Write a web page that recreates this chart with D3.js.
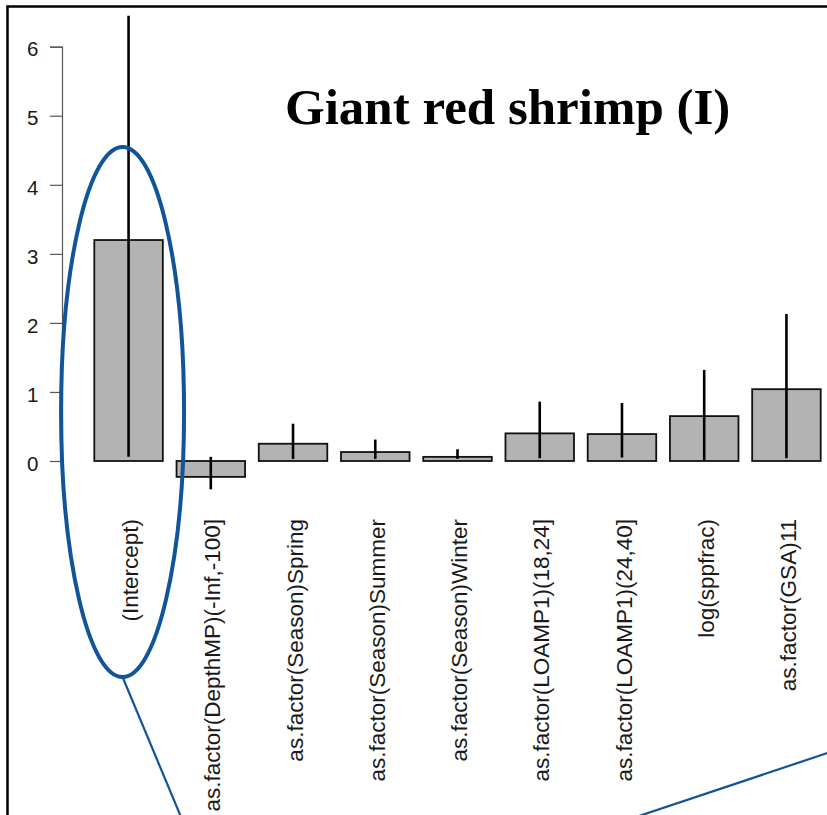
<!DOCTYPE html>
<html>
<head>
<meta charset="utf-8">
<script src="https://cdn.jsdelivr.net/npm/d3@7"></script>
<style>
  html, body { margin: 0; padding: 0; background: #ffffff; }
  svg { display: block; }
</style>
</head>
<body>
<svg id="chart" width="827" height="815"></svg>
<script>
// Model coefficients with their confidence limits
const categories = [
  "(Intercept)",
  "as.factor(DepthMP)(-Inf,-100]",
  "as.factor(Season)Spring",
  "as.factor(Season)Summer",
  "as.factor(Season)Winter",
  "as.factor(LOAMP1)(18,24]",
  "as.factor(LOAMP1)(24,40]",
  "log(sppfrac)",
  "as.factor(GSA)11"
];
const estimates = [3.20, -0.23, 0.25, 0.13, 0.06, 0.40, 0.39, 0.65, 1.04];
const lowerCI   = [0.06, -0.41, 0.03, 0.03, 0.03, 0.04, 0.05, 0.01, 0.04];
const upperCI   = [6.45,  0.06, 0.54, 0.31, 0.17, 0.86, 0.84, 1.32, 2.13];
const yTicks    = [0, 1, 2, 3, 4, 5, 6];
const title     = "Giant red shrimp (I)";

const svg = d3.select("#chart");
const W = 827, H = 815;

const rows = categories.map((c, i) => ({
  name: c, value: estimates[i], lo: lowerCI[i], hi: upperCI[i]
}));

// Scales
const x = d3.scaleBand()
  .domain(categories)
  .range([94.3, 820.7])
  .paddingInner(1 / 6)
  .paddingOuter(0);

const y = d3.scaleLinear()
  .domain([0, 6])
  .range([461, 46.7]);

// Outer frame (top and left edges)
svg.append("path")
  .attr("d", `M7.5,${H} L7.5,6.5 L${W},6.5`)
  .attr("fill", "none")
  .attr("stroke", "#000")
  .attr("stroke-width", 2.5);

// Y axis
const yAxis = svg.append("g")
  .attr("transform", "translate(62,0)")
  .call(d3.axisLeft(y).tickValues(yTicks).tickSize(12).tickPadding(11.5).tickFormat(d3.format("d")));
yAxis.attr("font-size", null).attr("font-family", null);
yAxis.select(".domain").attr("stroke", "#555").attr("stroke-width", 1.2);
yAxis.selectAll(".tick line").attr("stroke", "#555").attr("stroke-width", 1.2);
yAxis.selectAll(".tick text")
  .attr("fill", "#1a1a1a")
  .style("font-family", "'Liberation Sans', Arial, sans-serif")
  .style("font-size", "20.5px")
  .attr("dy", "0.45em");

// Bars
svg.append("g").selectAll("rect")
  .data(rows)
  .join("rect")
  .attr("x", d => x(d.name))
  .attr("width", x.bandwidth())
  .attr("y", d => y(Math.max(0, d.value)))
  .attr("height", d => Math.abs(y(d.value) - y(0)))
  .attr("fill", "#b3b3b3")
  .attr("stroke", "#111")
  .attr("stroke-width", 1.8);

// Confidence interval lines
svg.append("g").selectAll("line")
  .data(rows)
  .join("line")
  .attr("x1", d => x(d.name) + x.bandwidth() / 2)
  .attr("x2", d => x(d.name) + x.bandwidth() / 2)
  .attr("y1", d => y(d.lo))
  .attr("y2", d => y(d.hi))
  .attr("stroke", "#000")
  .attr("stroke-width", 2.6);

// Category labels, vertical
svg.append("g").selectAll("text")
  .data(rows)
  .join("text")
  .attr("transform", d => `translate(${x(d.name) + x.bandwidth() / 2 + 1.5},519) rotate(-90)`)
  .attr("text-anchor", "end")
  .attr("dy", "0.36em")
  .attr("fill", "#1a1a1a")
  .style("font-family", "'Liberation Sans', Arial, sans-serif")
  .style("font-size", "22.5px")
  .text(d => d.name);

// Title
svg.append("text")
  .attr("x", 285)
  .attr("y", 124)
  .style("font-family", "'Liberation Serif', 'Times New Roman', serif")
  .style("font-weight", "bold")
  .style("font-size", "51px")
  .attr("fill", "#000")
  .text(title);

// Highlight around the intercept term, with callout lines
const blue = "#10549a";
const cx = x(categories[0]) + x.bandwidth() / 2 - 6;
svg.append("ellipse")
  .attr("cx", cx)
  .attr("cy", 412)
  .attr("rx", 61.5)
  .attr("ry", 265)
  .attr("fill", "none")
  .attr("stroke", blue)
  .attr("stroke-width", 4);

svg.append("line")
  .attr("x1", cx).attr("y1", 677)
  .attr("x2", 181).attr("y2", 817)
  .attr("stroke", blue)
  .attr("stroke-width", 2.2);

svg.append("line")
  .attr("x1", 636).attr("y1", 817)
  .attr("x2", 829).attr("y2", 752.5)
  .attr("stroke", blue)
  .attr("stroke-width", 2.2);
</script>
</body>
</html>
